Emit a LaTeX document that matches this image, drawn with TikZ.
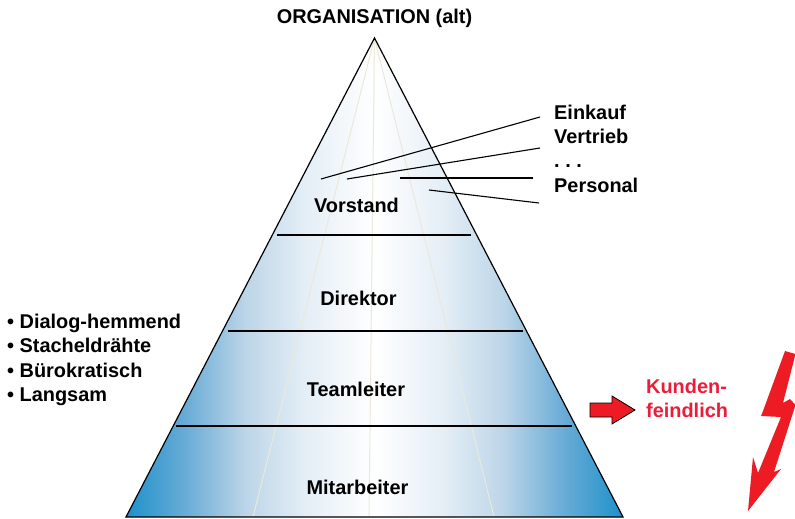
\documentclass[tikz,border=0pt]{standalone}
\usepackage{fontspec}
\setmainfont{Liberation Sans}
\definecolor{pyrblue}{RGB}{30,145,203}
\definecolor{pyrmid}{RGB}{105,172,214}
\definecolor{pyrlight}{RGB}{188,213,232}
\definecolor{pyrpale}{RGB}{228,238,246}
\definecolor{raycol}{RGB}{236,232,218}
\definecolor{alarm}{RGB}{232,30,58}
\definecolor{boltred}{RGB}{237,28,36}
\pgfdeclarehorizontalshading{pyrshade}{100bp}{color(0bp)=(pyrblue); color(25bp)=(pyrblue);
  color(31bp)=(pyrmid); color(37bp)=(pyrlight); color(43bp)=(pyrpale); color(50bp)=(white);
  color(57bp)=(pyrpale); color(63bp)=(pyrlight); color(69bp)=(pyrmid); color(75bp)=(pyrblue);
  color(100bp)=(pyrblue)}
\begin{document}
\begin{tikzpicture}[x=1pt,y=-1pt,
  lbl/.style={font=\fontsize{19.9}{24}\selectfont\bfseries,inner sep=0pt},
  level/.style={line width=2pt},
  ray/.style={draw=raycol,line width=1pt},
  lead/.style={line width=1.1pt}]
\useasboundingbox (0,0) rectangle (795,519);
% pyramid body
\coordinate (top) at (374.5,38);
\coordinate (bl) at (126,517);
\coordinate (br) at (623,517);
\shade[shading=pyrshade] (top) -- (br) -- (bl) -- cycle;
\coordinate (rl) at (253,517);
\coordinate (rc) at (369,517);
\coordinate (rr) at (494,517);
\draw[ray] (top) -- (rl);
\draw[ray] (top) -- (rc);
\draw[ray] (top) -- (rr);
% levels
\draw[level] (277,235) -- (471,235);
\draw[level] (228,331) -- (523,331);
\draw[level] (176,426) -- (572,426);
\draw[line width=1.2pt,line join=miter] (top) -- (br) -- (bl) -- cycle;
\node[lbl,anchor=base] (org) at (374.5,24) {ORGANISATION (alt)};
\node[lbl,anchor=base] (vor) at (356.5,212) {Vorstand};
\node[lbl,anchor=base] (dir) at (358.5,305) {Direktor};
\node[lbl,anchor=base] (team) at (356,396) {Teamleiter};
\node[lbl,anchor=base] (mit) at (357.5,494) {Mitarbeiter};
% departments
\node[lbl,anchor=base west] (ein) at (554,119) {Einkauf};
\node[lbl,anchor=base west] (ver) at (554,143) {Vertrieb};
\node[lbl,anchor=base west] (etc) at (554,167) {.\ .\ .};
\node[lbl,anchor=base west] (pers) at (554,192) {Personal};
\coordinate (ein1) at (321,179);
\coordinate (ein2) at (540,117);
\coordinate (ver1) at (347,179);
\coordinate (ver2) at (540,148);
\coordinate (etc1) at (400,178);
\coordinate (etc2) at (533,178);
\coordinate (pers1) at (429,190);
\coordinate (pers2) at (539,203);
\draw[lead] (ein1) -- (ein2);
\draw[lead] (ver1) -- (ver2);
\draw[lead] (etc1) -- (etc2);
\draw[lead] (pers1) -- (pers2);
% list on the left
\node[lbl,anchor=base west] (b1) at (7,328) {\textbullet\ Dialog-hemmend};
\node[lbl,anchor=base west] (b2) at (7,352.5) {\textbullet\ Stacheldrähte};
\node[lbl,anchor=base west] (b3) at (7,377) {\textbullet\ Bürokratisch};
\node[lbl,anchor=base west] (b4) at (7,401) {\textbullet\ Langsam};
% warning
\filldraw[fill=boltred,draw=black,line width=0.8pt,line join=miter]
  (590,403) -- (612,403) -- (612,396) -- (635,410) -- (612,424) -- (612,417) -- (590,417) -- cycle;
\node[lbl,text=alarm,anchor=base west] (kun) at (646,393) {Kunden-};
\node[lbl,text=alarm,anchor=base west] (fei) at (646,417) {feindlich};
\fill[boltred] (785,351) -- (795.5,354) -- (783,403) -- (790,399) -- (795.5,405)
  -- (774,472) -- (781,469) -- (748,511) -- (753,457) -- (758,473)
  -- (781,417) -- (761,416) -- (763,411) -- cycle;
\end{tikzpicture}
\end{document}
